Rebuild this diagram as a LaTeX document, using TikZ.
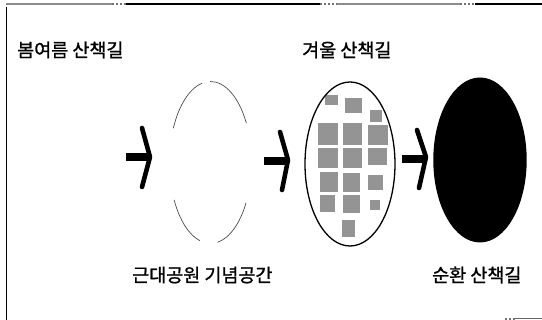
\documentclass[tikz,border=0pt]{standalone}
\usepackage{fontspec}
\setmainfont{Noto Sans CJK KR}[BoldFont=Noto Sans CJK KR,BoldFeatures={FakeBold=1.2}]
\usetikzlibrary{shapes.geometric}
\begin{document}
\begin{tikzpicture}[x=1pt,y=1pt,
  lbl/.style={anchor=west,inner sep=0pt,font=\fontsize{18.5}{20}\selectfont\bfseries},
  barline/.style={line width=8pt},
  headline/.style={line width=4.6pt,line cap=round,line join=round},
  blk/.style={fill=black!42,draw=none},
  frame/.style={line width=1.4pt},
  faint/.style={line width=1.4pt,black!45},
  gapline/.style={line width=1.2pt,black!55,dash pattern=on 2pt off 2pt}]
\useasboundingbox (0,0) rectangle (542,320);
% frame
\draw[frame] (6.5,0) -- (6.5,313);
\draw[faint] (5.5,316) -- (112,316);
\draw[gapline] (112,316) -- (126,316);
\draw[frame] (126,316) -- (320,316);
\draw[gapline] (320,316) -- (337,316);
\draw[faint] (337,316) -- (460,316);
\draw[gapline] (460,316) -- (475,316);
\draw[frame] (475,316) -- (542,316);
\draw[gapline] (505,1) -- (515,1);
\draw[line width=1pt,black!60] (515,1) -- (542,1);
% labels
\node[lbl] (t1) at (17,270) {봄여름 산책길};
\node[lbl] (t2) at (302,270) {겨울 산책길};
\node[lbl] (t3) at (132,45) {근대공원 기념공간};
\node[lbl] (t4) at (432,45) {순환 산책길};
% ellipse 1 (open outline)
\coordinate (c1) at (210.5,157.5);
\begin{scope}[line width=0.7pt,black!70]
\draw ([shift={(29:41 and 81)}]c1) arc[start angle=29,end angle=90.7,x radius=41,y radius=81];
\draw ([shift={(101.5:41 and 81)}]c1) arc[start angle=101.5,end angle=155,x radius=41,y radius=81];
\draw ([shift={(207.6:41 and 81)}]c1) arc[start angle=207.6,end angle=255,x radius=41,y radius=81];
\draw ([shift={(280:41 and 81)}]c1) arc[start angle=280,end angle=330,x radius=41,y radius=81];
\end{scope}
% ellipse 2 (patterned)
\begin{scope}
\clip (350,156) ellipse [x radius=45, y radius=82];
\fill[blk] (325,215) rectangle (338,225);
\fill[blk] (345,207) rectangle (362,222);
\fill[blk] (370,198) rectangle (382,210);
\fill[blk] (318,175) rectangle (338,197);
\fill[blk] (343,175) rectangle (362,197);
\fill[blk] (368,175) rectangle (388,195);
\fill[blk] (318,152) rectangle (338,172);
\fill[blk] (343,152) rectangle (362,172);
\fill[blk] (368,155) rectangle (387,172);
\fill[blk] (320,128) rectangle (338,148);
\fill[blk] (343,128) rectangle (360,147);
\fill[blk] (368,130) rectangle (383,145);
\fill[blk] (320,108) rectangle (335,125);
\fill[blk] (343,107) rectangle (360,125);
\fill[blk] (342,83) rectangle (355,100);
\fill[blk] (370,110) rectangle (380,120);
\end{scope}
\node[ellipse,draw,line width=1.3pt,minimum width=90pt,minimum height=164pt,inner sep=0pt] (e2) at (350,156) {};
% ellipse 3 (black)
\node[ellipse,fill=black,minimum width=93.4pt,minimum height=165pt,inner sep=0pt] (e3) at (480,160) {};
% arrows
\draw[barline] (126,162.5) -- (148,162.5);
\draw[headline] (142,192) -- (150,163) -- (142,133);
\draw[barline] (264,158.5) -- (286,158.5);
\draw[headline] (280,188) -- (288,160) -- (282,130);
\draw[barline] (402,161) -- (424,161);
\draw[headline] (417,190) -- (426,163) -- (419,132);
\end{tikzpicture}
\end{document}
